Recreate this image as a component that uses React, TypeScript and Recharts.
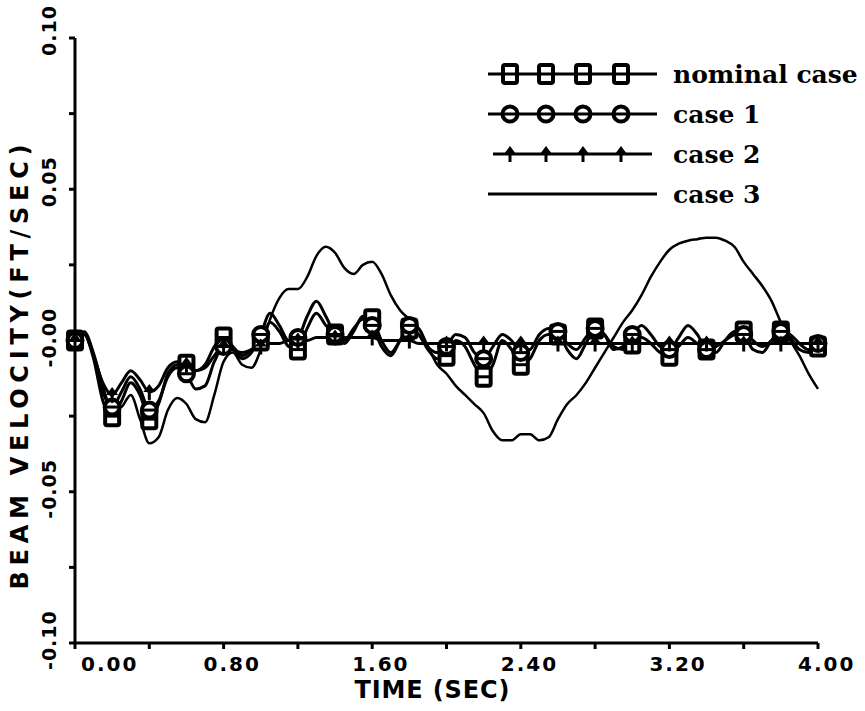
import React from 'react';
import { LineChart, Line, XAxis, YAxis, Legend } from 'recharts';

// time axis, 0.05 s steps
const times = [
  0.0, 0.05, 0.1, 0.15, 0.2, 0.25, 0.3, 0.35, 0.4, 0.45,
  0.5, 0.55, 0.6, 0.65, 0.7, 0.75, 0.8, 0.85, 0.9, 0.95,
  1.0, 1.05, 1.1, 1.15, 1.2, 1.25, 1.3, 1.35, 1.4, 1.45,
  1.5, 1.55, 1.6, 1.65, 1.7, 1.75, 1.8, 1.85, 1.9, 1.95,
  2.0, 2.05, 2.1, 2.15, 2.2, 2.25, 2.3, 2.35, 2.4, 2.45,
  2.5, 2.55, 2.6, 2.65, 2.7, 2.75, 2.8, 2.85, 2.9, 2.95,
  3.0, 3.05, 3.1, 3.15, 3.2, 3.25, 3.3, 3.35, 3.4, 3.45,
  3.5, 3.55, 3.6, 3.65, 3.7, 3.75, 3.8, 3.85, 3.9, 3.95,
  4.0,
];

const nominal = [
  0.0, 0.002, -0.006, -0.02, -0.025, -0.02, -0.014, -0.018, -0.026, -0.021,
  -0.011, -0.008, -0.008, -0.01, -0.008, -0.002, 0.001, -0.002, -0.005, -0.003,
  0.0, 0.006, 0.003, -0.002, -0.003, 0.004, 0.009, 0.005, 0.002, -0.001,
  0.003, 0.008, 0.007, 0.0, -0.004, 0.0, 0.004, 0.002, -0.003, -0.006,
  -0.005, 0.0, -0.002, -0.008, -0.012, -0.008, 0.0, -0.003, -0.008, -0.006,
  0.0, 0.002, 0.002, -0.001, -0.003, 0.001, 0.004, 0.002, -0.002, -0.003,
  -0.001, 0.001, -0.001, -0.004, -0.005, -0.002, 0.001, -0.001, -0.003, -0.002,
  0.0, 0.002, 0.003, 0.0, -0.002, 0.0, 0.003, 0.002, -0.001, -0.003,
  -0.002,
];

const case1 = [
  0.0, 0.002, -0.005, -0.017, -0.022, -0.017, -0.012, -0.016, -0.023, -0.02,
  -0.012, -0.009, -0.011, -0.016, -0.015, -0.007, -0.002, -0.003, -0.006, -0.004,
  0.002, 0.009, 0.005, 0.0, 0.001, 0.008, 0.013, 0.008, 0.002, 0.0,
  0.004, 0.007, 0.005, -0.002, -0.005, 0.0, 0.005, 0.004, -0.002, -0.004,
  -0.002, 0.002, 0.001, -0.004, -0.006, -0.002, 0.002, 0.0, -0.004, -0.003,
  0.002, 0.004, 0.003, -0.003, -0.006, -0.001, 0.004, 0.002, -0.003, -0.002,
  0.002, 0.005, 0.002, -0.002, -0.003, 0.001, 0.005, 0.002, -0.003, -0.004,
  0.0, 0.003, 0.002, -0.003, -0.004, 0.0, 0.003, 0.001, -0.003, -0.004,
  -0.001,
];

const case2 = [
  0.0, 0.002, -0.005, -0.014, -0.018, -0.014, -0.01, -0.013, -0.017, -0.015,
  -0.009, -0.007, -0.008, -0.01, -0.009, -0.005, -0.002, -0.003, -0.004, -0.003,
  -0.002, -0.001, -0.001, 0.0, 0.0, 0.0, 0.001, 0.001, 0.001, 0.001,
  0.001, 0.001, 0.001, 0.0, 0.0, 0.0, 0.0, -0.001, -0.001, -0.001,
  -0.001, -0.001, -0.001, -0.001, -0.001, -0.001, -0.001, -0.001, -0.001, -0.001,
  -0.001, -0.001, -0.001, -0.001, -0.001, -0.001, -0.001, -0.001, -0.001, -0.001,
  -0.001, -0.001, -0.001, -0.001, -0.001, -0.001, -0.001, -0.001, -0.001, -0.001,
  -0.001, -0.001, -0.001, -0.001, -0.001, -0.001, -0.001, -0.001, -0.001, -0.001,
  -0.001,
];

const case3 = [
  0.0, 0.003, -0.004, -0.015, -0.023, -0.022, -0.018, -0.026, -0.034, -0.032,
  -0.023, -0.019, -0.021, -0.026, -0.027, -0.018, -0.007, -0.004, -0.008, -0.009,
  -0.003, 0.007, 0.014, 0.017, 0.017, 0.021, 0.028, 0.031, 0.029, 0.024,
  0.022, 0.025, 0.026, 0.022, 0.015, 0.01, 0.007, 0.004, -0.002, -0.008,
  -0.011, -0.015, -0.018, -0.021, -0.024, -0.03, -0.033, -0.033, -0.031, -0.031,
  -0.033, -0.032, -0.026, -0.021, -0.018, -0.014, -0.009, -0.004, 0.001, 0.006,
  0.01, 0.015, 0.021, 0.026, 0.03, 0.032, 0.033, 0.0335, 0.034, 0.034,
  0.033, 0.031, 0.026, 0.022, 0.018, 0.013, 0.006, 0.0, -0.005, -0.011,
  -0.016,
];

const xTicks = [0, 0.4, 0.8, 1.2, 1.6, 2.0, 2.4, 2.8, 3.2, 3.6, 4.0];
const xMajor = [0, 0.8, 1.6, 2.4, 3.2, 4.0];
const xTickLabels = ['0.00', '0.80', '1.60', '2.40', '3.20', '4.00'];

const yTicks = [-0.1, -0.075, -0.05, -0.025, 0, 0.025, 0.05, 0.075, 0.1];
const yMajor = [0.1, 0.05, 0, -0.05, -0.1];
const yTickLabels = ['0.10', '0.05', '-0.00', '-0.05', '-0.10'];

const seriesKeys = ['nominal', 'case1', 'case2', 'case3'];
const seriesNames = ['nominal case', 'case 1', 'case 2', 'case 3'];

const data = times.map((t, i) => ({
  t,
  nominal: nominal[i],
  case1: case1[i],
  case2: case2[i],
  case3: case3[i],
}));

const sansBold = '"DejaVu Sans", sans-serif';

const Marker = ({ kind, cx, cy }: { kind: string; cx: number; cy: number }) => {
  if (kind === 'square') {
    return (
      <g>
        <rect x={cx - 7} y={cy - 9} width={14} height={18} rx={2} fill="#fff" stroke="#000" strokeWidth={4} />
        <line x1={cx - 7} x2={cx + 7} y1={cy} y2={cy} stroke="#000" strokeWidth={3} />
      </g>
    );
  }
  if (kind === 'circle') {
    return (
      <g>
        <circle cx={cx} cy={cy} r={7.5} fill="#fff" stroke="#000" strokeWidth={4} />
        <line x1={cx - 7} x2={cx + 7} y1={cy} y2={cy} stroke="#000" strokeWidth={3} />
      </g>
    );
  }
  if (kind === 'plus') {
    return (
      <g>
        <path d={`M${cx},${cy - 8} L${cx + 6},${cy} L${cx - 6},${cy} Z`} fill="#000" />
        <line x1={cx} x2={cx} y1={cy - 2} y2={cy + 8} stroke="#000" strokeWidth={3} />
      </g>
    );
  }
  return null;
};

const markerKinds: Record<string, string> = { nominal: 'square', case1: 'circle', case2: 'plus', case3: 'none' };

const dotFor = (kind: string) => (props: any) => {
  const { cx, cy, index } = props;
  if (index % 4 !== 0 || cx == null || cy == null) return <g key={`${kind}-${index}`} />;
  return (
    <g key={`${kind}-${index}`}>
      <Marker kind={kind} cx={cx} cy={cy} />
    </g>
  );
};

const XTick = (props: any) => {
  const { x, payload } = props;
  const i = xMajor.findIndex(v => Math.abs(v - payload.value) < 1e-6);
  if (i < 0) return <g />;
  const dx = i === 0 ? 6 : -20;
  return (
    <text
      x={x + dx}
      y={664}
      dominantBaseline="central"
      textAnchor="start"
      fontFamily={sansBold}
      fontWeight="bold"
      fontSize={20}
      letterSpacing={2}
      fill="#000"
    >
      {xTickLabels[i]}
    </text>
  );
};

const YTick = (props: any) => {
  const { y, payload } = props;
  const i = yMajor.findIndex(v => Math.abs(v - payload.value) < 1e-6);
  if (i < 0) return <g />;
  const label = yTickLabels[i];
  const bx = 56;
  const by = y + (label.startsWith('-') ? 27 : 18);
  return (
    <text
      x={bx}
      y={by}
      transform={`rotate(-90, ${bx}, ${by})`}
      textAnchor="start"
      fontFamily={sansBold}
      fontWeight="bold"
      fontSize={19}
      letterSpacing={1}
      fill="#000"
    >
      {label}
    </text>
  );
};

const XTitle = () => (
  <text
    x={432}
    y={690}
    textAnchor="middle"
    dominantBaseline="central"
    textLength={155}
    lengthAdjust="spacing"
    fontFamily={sansBold}
    fontWeight="bold"
    fontSize={24}
    fill="#000"
  >
    TIME (SEC)
  </text>
);

const YTitle = () => (
  <text
    x={20}
    y={367}
    transform="rotate(-90, 20, 367)"
    textAnchor="middle"
    dominantBaseline="central"
    textLength={445}
    lengthAdjust="spacing"
    fontFamily={sansBold}
    fontWeight="bold"
    fontSize={24}
    fill="#000"
  >
    BEAM VELOCITY(FT/SEC)
  </text>
);

const renderLegend = (props: any) => {
  const entries = [...(props.payload || [])].sort(
    (a: any, b: any) => seriesKeys.indexOf(a.dataKey) - seriesKeys.indexOf(b.dataKey)
  );
  return (
    <div style={{ fontFamily: '"DejaVu Serif", serif', fontWeight: 'bold', fontSize: 25, color: '#000' }}>
      {entries.map((entry: any) => {
        const kind = markerKinds[entry.dataKey];
        const short = kind === 'plus';
        return (
          <div key={entry.dataKey} style={{ display: 'flex', alignItems: 'center', height: 40 }}>
            <svg width={188} height={40}>
              <line x1={short ? 8 : 3} x2={short ? 167 : 172} y1={20} y2={20} stroke="#000" strokeWidth={3} />
              {kind !== 'none' &&
                [25, 61, 98, 136].map(mx => <Marker key={mx} kind={kind} cx={mx} cy={20} />)}
            </svg>
            <span style={{ whiteSpace: 'nowrap' }}>{entry.value}</span>
          </div>
        );
      })}
    </div>
  );
};

const App: React.FC = () => {
  return (
    <div style={{ position: 'absolute', left: 0, top: 0, width: 865, height: 711, overflow: 'hidden', background: '#fff' }}>
      <LineChart width={865} height={711} data={data} margin={{ top: 38, right: 47, bottom: 28, left: 30 }}>
        <XAxis
          dataKey="t"
          type="number"
          domain={[0, 4]}
          ticks={xTicks}
          interval={0}
          height={40}
          stroke="#000"
          strokeWidth={3}
          tickSize={6}
          tick={<XTick />}
          label={<XTitle />}
        />
        <YAxis
          type="number"
          domain={[-0.1, 0.1]}
          ticks={yTicks}
          interval={0}
          width={45}
          stroke="#000"
          strokeWidth={3}
          tickSize={6}
          tick={<YTick />}
          label={<YTitle />}
        />
        <Legend
          layout="vertical"
          align="center"
          verticalAlign="middle"
          content={renderLegend}
          wrapperStyle={{ top: 54, left: 485, width: 400 }}
        />
        <Line dataKey="nominal" name={seriesNames[0]} type="monotone" stroke="#000" strokeWidth={3} dot={dotFor('square')} activeDot={false} isAnimationActive={false} />
        <Line dataKey="case1" name={seriesNames[1]} type="monotone" stroke="#000" strokeWidth={3} dot={dotFor('circle')} activeDot={false} isAnimationActive={false} />
        <Line dataKey="case2" name={seriesNames[2]} type="monotone" stroke="#000" strokeWidth={3} dot={dotFor('plus')} activeDot={false} isAnimationActive={false} />
        <Line dataKey="case3" name={seriesNames[3]} type="monotone" stroke="#000" strokeWidth={2.5} dot={false} activeDot={false} isAnimationActive={false} />
      </LineChart>
    </div>
  );
};

export default App;
